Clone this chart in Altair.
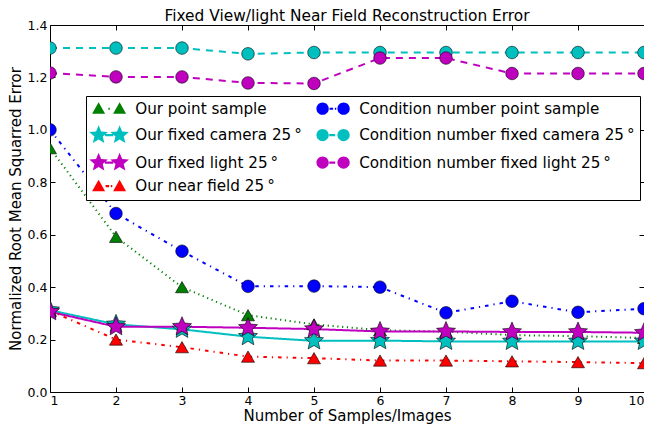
import altair as alt
import pandas as pd
import math

# ---------------- data ----------------
x_vals = [1, 2, 3, 4, 5, 6, 7, 8, 9, 10]
our_point_sample = [0.93, 0.592, 0.400, 0.293, 0.258, 0.236, 0.230, 0.217, 0.213, 0.206]
our_fixed_camera = [0.312, 0.258, 0.239, 0.211, 0.195, 0.196, 0.193, 0.193, 0.193, 0.193]
our_fixed_light = [0.306, 0.249, 0.249, 0.245, 0.240, 0.231, 0.231, 0.229, 0.229, 0.226]
our_near_field = [0.310, 0.200, 0.171, 0.135, 0.129, 0.120, 0.120, 0.117, 0.114, 0.110]
cond_point_sample = [1.0, 0.681, 0.537, 0.403, 0.404, 0.400, 0.302, 0.346, 0.304, 0.318]
cond_fixed_camera = [1.312, 1.312, 1.312, 1.290, 1.295, 1.295, 1.295, 1.295, 1.295, 1.295]
cond_fixed_light = [1.217, 1.202, 1.202, 1.179, 1.177, 1.274, 1.274, 1.215, 1.215, 1.215]

y_ticks = [0.0, 0.2, 0.4, 0.6, 0.8, 1.0, 1.2, 1.4]

deg = "\u2009\u00b0"
names = [
    "Our point sample",
    "Our fixed camera 25" + deg,
    "Our fixed light 25" + deg,
    "Our near field 25" + deg,
    "Condition number point sample",
    "Condition number fixed camera 25" + deg,
    "Condition number fixed light 25" + deg,
]
series_values = [our_point_sample, our_fixed_camera, our_fixed_light, our_near_field,
                 cond_point_sample, cond_fixed_camera, cond_fixed_light]

rows = []
for name, vals in zip(names, series_values):
    for xv, yv in zip(x_vals, vals):
        rows.append({"series": name, "x": xv, "y": yv})
df = pd.DataFrame(rows)

# ---------------- styles ----------------
colors = ["#008000", "#00bfbf", "#bf00bf", "#ff0000", "#0000ff", "#00bfbf", "#bf00bf"]
dashes = [[1.2, 3.6], [1, 0], [1, 0], [3.5, 5, 1.2, 5], [3.5, 5, 1.2, 5], [7, 6], [7, 6]]
kinds = ["tri", "star", "star", "tri", "circle", "circle", "circle"]
styles = ["dot", "solid", "solid", "dashdot", "dashdot", "dash", "dash"]


def star_path(cx, R, ri):
    pts = []
    for k in range(10):
        a = -math.pi / 2 + k * math.pi / 5
        rr = R if k % 2 == 0 else ri
        pts.append((cx + rr * math.cos(a), rr * math.sin(a)))
    return "M" + "L".join(f"{px:.3f},{py:.3f}" for px, py in pts) + "Z"


def circle_path(cx, r):
    return (f"M{cx-r:.3f},0A{r},{r} 0 1,0 {cx+r:.3f},0"
            f"A{r},{r} 0 1,0 {cx-r:.3f},0Z")


def tri_path(cx):
    return f"M{cx-0.93:.3f},0.72L{cx:.3f},-0.92L{cx+0.93:.3f},0.72Z"


# plot markers (custom path unit = sqrt(size)/2 px)
marker_style = {
    "tri": {"shape": "triangle-up", "size": 169},
    "star": {"shape": star_path(0, 1.0, 0.46), "size": 400},
    "circle": {"shape": circle_path(0, 1.0), "size": 156},
}


# legend symbols: two markers joined by a short line (units: 1 = 7px)
def marker_path(kind, cx):
    if kind == "tri":
        return tri_path(cx)
    if kind == "circle":
        return circle_path(cx, 0.88)
    return star_path(cx, 1.4, 0.62)


def bar(a, b):
    return f"M{a:.3f},-0.15L{b:.3f},-0.15L{b:.3f},0.15L{a:.3f},0.15Z"


def legend_path(kind, style):
    gap = 3.0
    p = marker_path(kind, 0) + marker_path(kind, gap)
    a, b = 0.9, gap - 0.9
    if style == "solid":
        p += bar(a, b)
    elif style == "dash":
        p += bar(a + 0.05, a + 0.9)
    elif style == "dot":
        m = (a + b) / 2
        p += bar(m - 0.1, m + 0.1)
    else:
        p += bar(a + 0.1, a + 0.6) + bar(b - 0.35, b - 0.15)
    return p


legend_paths = [legend_path(k, s) for k, s in zip(kinds, styles)]

FONT = "DejaVu Sans"

xscale = alt.Scale(domain=[1, 10], nice=False, zero=False)
yscale = alt.Scale(domain=[0, 1.4], nice=False, zero=False)


def cscale():
    return alt.Scale(domain=names, range=colors)


lines = alt.Chart(df).mark_line(strokeWidth=2, clip=True, strokeCap="butt").encode(
    x=alt.X("x:Q", scale=xscale,
            axis=alt.Axis(orient="bottom", values=x_vals, format="d", offset=-5, tickSize=5,
                          domain=False, grid=False, labelPadding=2,
                          title="Number of Samples/Images", titlePadding=2)),
    y=alt.Y("y:Q", scale=yscale,
            axis=alt.Axis(orient="left", values=y_ticks, format=".1f", offset=-5, tickSize=5,
                          domain=False, grid=False, labelPadding=3,
                          title="Normalized Root Mean Squarred Error", titlePadding=4)),
    color=alt.Color("series:N", scale=cscale(), legend=None),
    strokeDash=alt.StrokeDash("series:N", scale=alt.Scale(domain=names, range=dashes), legend=None),
)


def point_layer(kind, with_axes):
    members = [n for n, k in zip(names, kinds) if k == kind]
    st = marker_style[kind]
    if with_axes:
        xe = alt.X("x:Q", scale=xscale,
                   axis=alt.Axis(orient="top", values=x_vals, labels=False, title=None,
                                 offset=-5, tickSize=5, domain=False, grid=False))
        ye = alt.Y("y:Q", scale=yscale,
                   axis=alt.Axis(orient="right", values=y_ticks, labels=False, title=None,
                                 offset=-5, tickSize=5, domain=False, grid=False))
    else:
        xe = alt.X("x:Q", scale=xscale, axis=None)
        ye = alt.Y("y:Q", scale=yscale, axis=None)
    return alt.Chart(df).transform_filter(
        alt.FieldOneOfPredicate(field="series", oneOf=members)
    ).mark_point(filled=True, opacity=1, stroke="black", strokeWidth=0.6, clip=True,
                 shape=st["shape"], size=st["size"]).encode(
        x=xe, y=ye,
        color=alt.Color("series:N", scale=cscale(), legend=None),
    )


leg = alt.Legend(title=None, orient="none", legendX=36, legendY=71, columns=2,
                 direction="vertical", labelLimit=500)
legend_layer = alt.Chart(df).transform_filter("false").mark_point(
    filled=True, opacity=1).encode(
    color=alt.Color("series:N", scale=cscale(), legend=leg),
    shape=alt.Shape("series:N", scale=alt.Scale(domain=names, range=legend_paths), legend=leg),
)

chart = alt.layer(
    lines,
    point_layer("tri", True),
    point_layer("star", False),
    point_layer("circle", False),
    legend_layer,
).resolve_axis(
    x="independent", y="independent"
).resolve_scale(color="independent", shape="independent").properties(
    width=594, height=367,
    autosize=alt.AutoSizeParams(type="none"),
    padding={"left": 42, "top": 17, "right": 0, "bottom": 35},
    title=alt.TitleParams("Fixed View/light Near Field Reconstruction Error",
                          fontSize=15.4, font=FONT, fontWeight="normal", offset=-5,
                          color="black"),
).configure_view(
    stroke="black", strokeWidth=1
).configure_axis(
    labelFont=FONT, labelFontSize=12.5, labelColor="black",
    titleFont=FONT, titleFontSize=15, titleFontWeight="normal", titleColor="black",
    tickColor="black", tickWidth=1,
).configure_legend(
    labelFont=FONT, labelFontSize=15.2, labelColor="black",
    fillColor="white", strokeColor="black", strokeWidth=1, padding=5, cornerRadius=0,
    symbolSize=196, symbolStrokeColor="black", symbolStrokeWidth=0.5, symbolOpacity=1,
    labelOffset=29, rowPadding=6.5, columnPadding=13,
)

chart.save("out.html", embed_options={"renderer": "svg", "actions": False})
